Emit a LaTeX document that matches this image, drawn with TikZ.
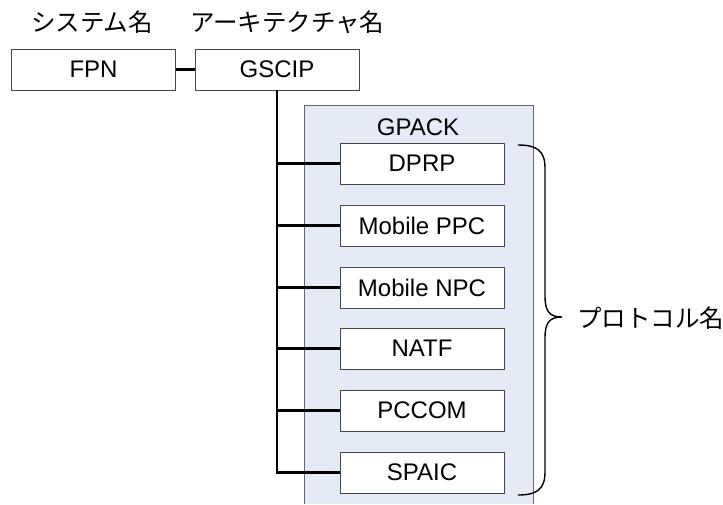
\documentclass[tikz,border=0pt]{standalone}
\usepackage{fontspec}
\setmainfont{Liberation Sans}
\newfontfamily\jp{Noto Sans CJK JP}
\definecolor{gpackfill}{RGB}{228,235,246}
\definecolor{boxline}{RGB}{70,70,70}
\begin{document}
\begin{tikzpicture}[x=1pt,y=-1pt,
  pbox/.style={draw=boxline,line width=0.9pt,fill=white,minimum width=164pt,minimum height=41pt,inner sep=0pt,font=\fontsize{24}{27}\selectfont},
  conn/.style={line width=2.8pt,black},
  lbl/.style={inner sep=0pt,font=\fontsize{24.5}{27}\selectfont\jp}]
\useasboundingbox (0,0) rectangle (723,504);
% GPACK container
\fill[gpackfill] (304,105) rectangle (533,504);
\draw[draw=gray!80!black,line width=0.9pt] (304,504) -- (304,105) -- (533,105) -- (533,504);
\node[inner sep=0pt,font=\fontsize{24}{27}\selectfont] (gpack) at (418,127) {GPACK};
% top labels
\node[lbl] (sysname) at (92,22) {システム名};
\node[lbl,anchor=west] (archname) at (190,22) {アーキテクチャ名};
% boxes
\node[pbox] (fpn) at (93.5,69.5) {FPN};
\node[pbox] (gscip) at (277,69.5) {GSCIP};
\node[pbox] (dprp) at (422,163.5) {DPRP};
\node[pbox] (mppc) at (422,225.5) {Mobile PPC};
\node[pbox] (mnpc) at (422,287.5) {Mobile NPC};
\node[pbox] (natf) at (422,348.5) {NATF};
\node[pbox] (pccom) at (422,410.5) {PCCOM};
\node[pbox] (spaic) at (422,472.5) {SPAIC};
% connectors
\draw[conn] (fpn.east) -- (gscip.west);
\draw[conn] (gscip.south) |- (spaic.west);
\draw[conn] (gscip.south) |- (dprp.west);
\draw[conn] (gscip.south) |- (mppc.west);
\draw[conn] (gscip.south) |- (mnpc.west);
\draw[conn] (gscip.south) |- (natf.west);
\draw[conn] (gscip.south) |- (pccom.west);
% brace
\coordinate (btop) at (518,145);
\coordinate (btip) at (562,317);
\coordinate (bbot) at (518,495);
\draw[line width=1.4pt,black] (btop) .. controls (536,145) and (545,150) .. (545,168)
  -- (545,296) .. controls (545,312) and (550,317) .. (btip)
  .. controls (550,317) and (545,322) .. (545,338)
  -- (545,472) .. controls (545,490) and (536,495) .. (bbot);
\node[lbl,anchor=west] (proto) at (577,318) {プロトコル名};
\end{tikzpicture}
\end{document}
